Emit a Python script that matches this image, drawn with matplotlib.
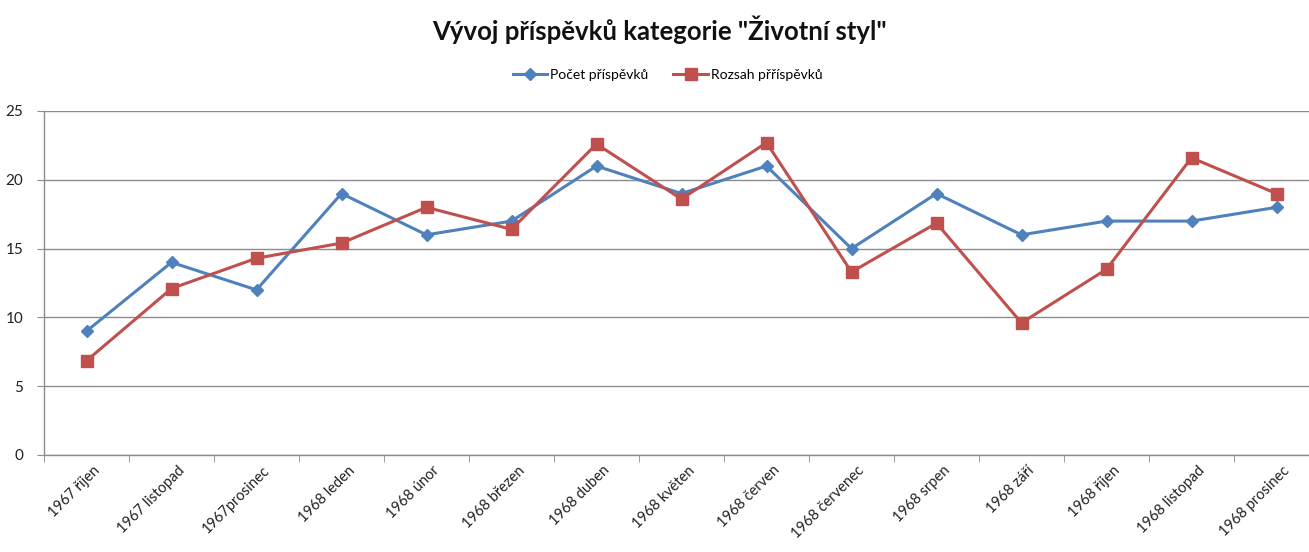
import matplotlib
matplotlib.use("Agg")
import matplotlib.pyplot as plt
import numpy as np

categories = ["1967 říjen", "1967 listopad", "1967prosinec", "1968 leden", "1968 únor",
              "1968 březen", "1968 duben", "1968 květen", "1968 červen", "1968 červenec",
              "1968 srpen", "1968 září", "1968 říjen", "1968 listopad", "1968 prosinec"]
pocet = [9, 14, 12, 19, 16, 17, 21, 19, 21, 15, 19, 16, 17, 17, 18]
rozsah = [6.85, 12.1, 14.3, 15.4, 18.0, 16.4, 22.6, 18.6, 22.7, 13.3, 16.85, 9.6, 13.5, 21.6, 19.0]
yticks = [0, 5, 10, 15, 20, 25]

plt.rcParams['font.family'] = ['Lato', 'DejaVu Sans']

fig = plt.figure(figsize=(13.09, 5.52), dpi=100)
ax = fig.add_axes([44/1309, 97/552, 1275/1309, 344/552])

x = np.arange(len(categories))
ax.plot(x, pocet, color='#4F81BD', lw=2.2, marker='D', ms=6.5, label='Počet příspěvků', zorder=3)
ax.plot(x, rozsah, color='#C0504D', lw=2.2, marker='s', ms=8, label='Rozsah přříspěvků', zorder=3)

ax.set_xlim(-0.5, len(categories) - 0.5)
ax.set_ylim(0, 25)
ax.set_yticks(yticks)
ax.yaxis.grid(True, color='#8C8C8C', lw=1.0)
ax.set_axisbelow(True)

ax.set_xticks(x)
ax.set_xticklabels(categories, rotation=45, ha='right', rotation_mode='anchor', fontsize=10.5, color='#222222')
ax.set_xticks(np.arange(len(categories) + 1) - 0.5, minor=True)
ax.tick_params(axis='x', which='major', length=0, pad=6)
ax.tick_params(axis='x', which='minor', length=5, color='#8C8C8C')
ax.tick_params(axis='y', length=5, color='#8C8C8C', labelsize=11, labelcolor='#222222', pad=10)
for lbl in ax.get_xticklabels():
    lbl.set_x(lbl.get_position()[0])
import matplotlib.transforms as mtransforms
offset = mtransforms.ScaledTranslation(6/100, 0, fig.dpi_scale_trans)
for lbl in ax.get_xticklabels():
    lbl.set_transform(lbl.get_transform() + offset)

for s in ['top', 'right']:
    ax.spines[s].set_visible(False)
for s in ['left', 'bottom']:
    ax.spines[s].set_color('#8C8C8C')
    ax.spines[s].set_linewidth(1.0)

fig.text(0.504, 0.947, 'Vývoj příspěvků kategorie "Životní styl"', ha='center', va='center',
         fontsize=18.5, fontweight='bold', color='#111111')

leg = fig.legend(loc='center', bbox_to_anchor=(0.51, 0.864), ncol=2, frameon=False,
                 fontsize=10, handlelength=2.5, columnspacing=1.8, handletextpad=0.2)

fig.savefig('out.png', dpi=100)
